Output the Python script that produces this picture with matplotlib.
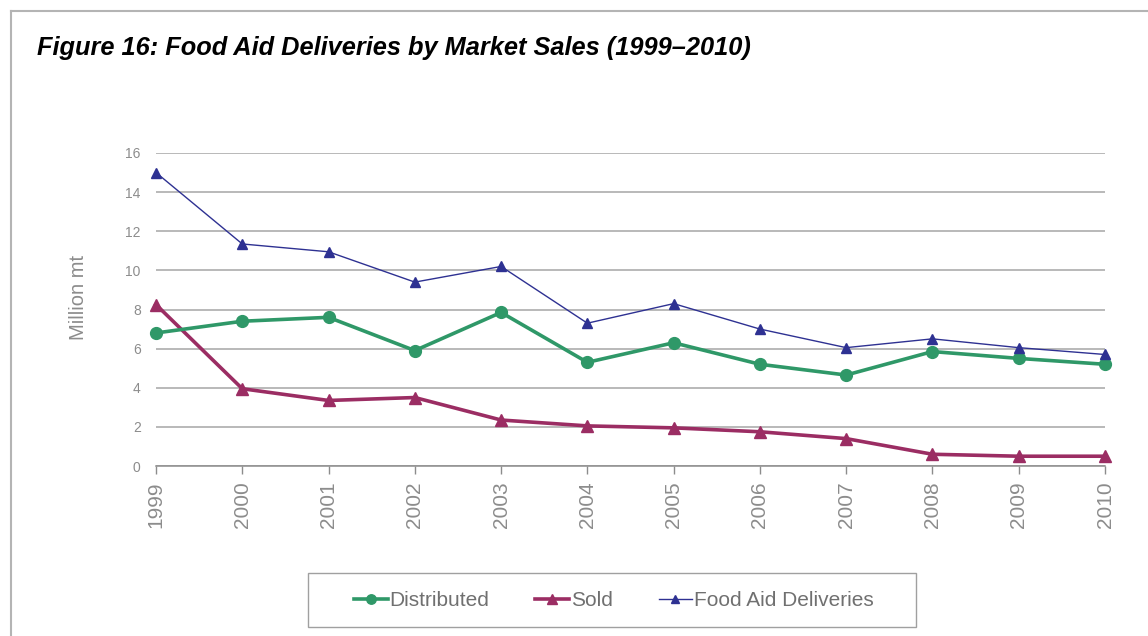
# -*- coding: utf-8 -*-
''' Food aid deliveries by market sales, 1999-2010. '''

import numpy as np
import matplotlib.pyplot as plt
from matplotlib.lines import Line2D
from matplotlib.patches import Rectangle

years = [1999, 2000, 2001, 2002, 2003, 2004, 2005, 2006, 2007, 2008, 2009, 2010]
distributed = [6.8, 7.4, 7.6, 5.9, 7.85, 5.3, 6.3, 5.2, 4.65, 5.85, 5.5, 5.2]
sold = [8.25, 3.95, 3.35, 3.5, 2.35, 2.05, 1.95, 1.75, 1.4, 0.6, 0.5, 0.5]
deliveries = [15.0, 11.35, 10.95, 9.4, 10.2, 7.3, 8.3, 7.0, 6.05, 6.5, 6.05, 5.7]
y_ticks = [0, 2, 4, 6, 8, 10, 12, 14, 16]

title = 'Figure 16: Food Aid Deliveries by Market Sales (1999\u20132010)'

plt.rcParams['font.family'] = ['Liberation Sans', 'DejaVu Sans']

GREY = '#8c8c8c'
GRID = '#a6a6a6'
W, H = 1148, 636


def make_plot():
    fig = plt.figure(figsize=(W / 100, H / 100), dpi=100)

    # page frame
    fig.add_artist(Line2D([11 / W, 1], [1 - 11 / H] * 2, color='#b4b4b4', lw=1.5,
                          transform=fig.transFigure))
    fig.add_artist(Line2D([11 / W] * 2, [0, 1 - 11 / H], color='#b4b4b4', lw=1.5,
                          transform=fig.transFigure))

    fig.text(37 / W, 1 - 48 / H, title, fontsize=18.3, fontweight='bold',
             fontstyle='italic', va='center', ha='left', color='black')

    ax = fig.add_axes([156 / W, 1 - 466 / H, (1105 - 156) / W, (466 - 153) / H])
    x = np.arange(len(years))

    ax.plot(x, deliveries, color='#2e3192', lw=1.0, marker='^', markersize=7.5,
            clip_on=False, zorder=4, label='Food Aid Deliveries')
    ax.plot(x, sold, color='#9b2d63', lw=2.6, marker='^', markersize=9,
            clip_on=False, zorder=3, label='Sold')
    ax.plot(x, distributed, color='#2f9868', lw=2.6, marker='o', markersize=8.5,
            clip_on=False, zorder=3, label='Distributed')

    ax.set_xlim(0, len(years) - 1)
    ax.set_ylim(0, 16)
    ax.set_yticks(y_ticks)
    ax.set_xticks(x)
    ax.set_xticklabels([str(y) for y in years], rotation=90, fontsize=15, color=GREY)
    ax.tick_params(axis='y', length=0, pad=11, labelsize=10, labelcolor=GREY)
    ax.tick_params(axis='x', direction='out', length=6, width=1, color=GREY, pad=5)

    ax.grid(axis='y', color=GRID, lw=1.1)
    ax.set_axisbelow(True)
    for side in ['top', 'right', 'left']:
        ax.spines[side].set_visible(False)
    ax.spines['bottom'].set_color(GREY)
    ax.spines['bottom'].set_linewidth(1.1)

    ax.set_ylabel('Million mt', fontsize=14.5, color=GREY)
    ax.yaxis.set_label_coords(-(156 - 88) / (1105 - 156), 0.54)

    # legend box
    fig.add_artist(Rectangle((308 / W, 1 - 627 / H), (916 - 308) / W, (627 - 573) / H,
                             transform=fig.transFigure, fill=False,
                             edgecolor='#a0a0a0', lw=1.0))
    handles, labels = ax.get_legend_handles_labels()
    order = [2, 1, 0]
    leg = fig.legend([handles[i] for i in order], [labels[i] for i in order],
                     loc='center', bbox_to_anchor=(614 / W, 1 - 601 / H),
                     ncol=3, fontsize=15, frameon=False,
                     handlelength=1.6, handletextpad=0.1, columnspacing=2.2,
                     markerscale=0.8)
    for t in leg.get_texts():
        t.set_color('#707070')

    fig.savefig('out.png', dpi=100)


if __name__ == '__main__':
    make_plot()
